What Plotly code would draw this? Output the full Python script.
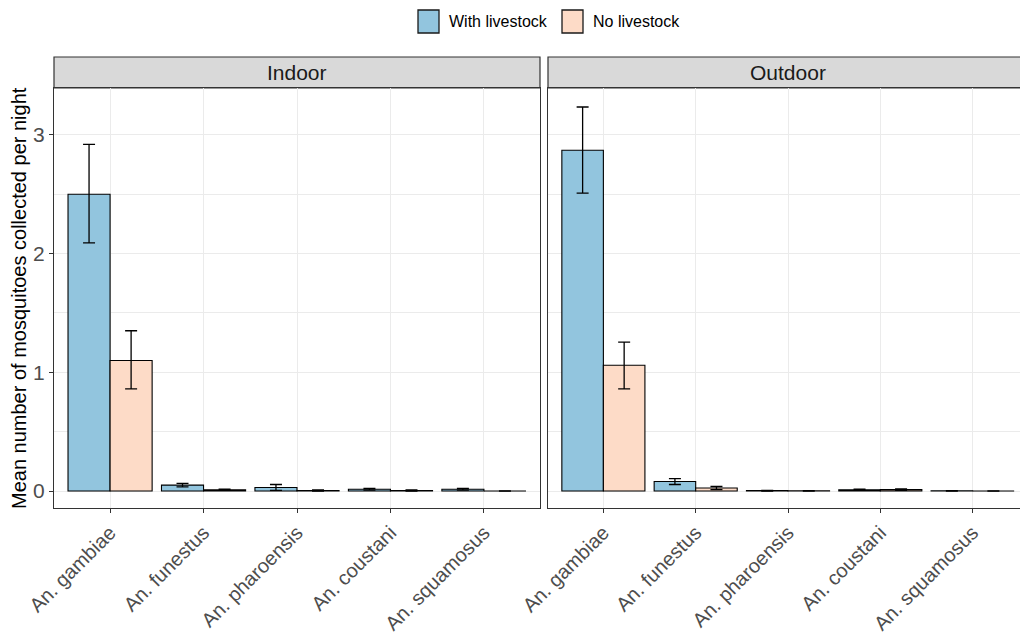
import plotly.graph_objects as go
from plotly.subplots import make_subplots

species = ["An. gambiae", "An. funestus", "An. pharoensis", "An. coustani", "An. squamosus"]
panels = ["Indoor", "Outdoor"]
groups = ["With livestock", "No livestock"]
colors = {"With livestock": "#92C5DE", "No livestock": "#FDDBC7"}

# mean values
indoor_with = [2.50, 0.05, 0.03, 0.015, 0.015]
indoor_without = [1.10, 0.01, 0.005, 0.005, 0.0]
outdoor_with = [2.87, 0.08, 0.003, 0.01, 0.002]
outdoor_without = [1.06, 0.025, 0.002, 0.012, 0.0]

# error bar bounds (lower, upper)
indoor_with_lo = [2.09, 0.035, 0.005, 0.008, 0.008]
indoor_with_hi = [2.92, 0.065, 0.055, 0.022, 0.022]
indoor_without_lo = [0.86, 0.005, 0.0, 0.0, 0.0]
indoor_without_hi = [1.35, 0.015, 0.01, 0.01, 0.0]
outdoor_with_lo = [2.51, 0.055, 0.0, 0.005, 0.0]
outdoor_with_hi = [3.235, 0.105, 0.006, 0.015, 0.004]
outdoor_without_lo = [0.86, 0.012, 0.0, 0.006, 0.0]
outdoor_without_hi = [1.255, 0.038, 0.004, 0.018, 0.0]

data = {
    ("Indoor", "With livestock"): (indoor_with, indoor_with_lo, indoor_with_hi),
    ("Indoor", "No livestock"): (indoor_without, indoor_without_lo, indoor_without_hi),
    ("Outdoor", "With livestock"): (outdoor_with, outdoor_with_lo, outdoor_with_hi),
    ("Outdoor", "No livestock"): (outdoor_without, outdoor_without_lo, outdoor_without_hi),
}

# the page body has an 8px margin; the figure is sized to fill the rest of the window
OFF = 8
W, H = 1028 - OFF, 638 - OFF
FONT = "Liberation Sans, Arial, sans-serif"

fig = make_subplots(rows=1, cols=2, shared_yaxes=True)

for ci, panel in enumerate(panels, start=1):
    for g in groups:
        vals, lo, hi = data[(panel, g)]
        fig.add_trace(go.Bar(
            x=species, y=vals, name=g, legendgroup=g, showlegend=False,
            marker=dict(color=colors[g], line=dict(color="black", width=1.1)),
            error_y=dict(type="data", symmetric=False,
                         array=[h - v for h, v in zip(hi, vals)],
                         arrayminus=[v - l for v, l in zip(vals, lo)],
                         color="black", thickness=1.3, width=6),
        ), row=1, col=ci)


def px_x(p):
    return (p - OFF) / W


def px_y(p):
    return 1 - (p - OFF) / H


x_domains = [(px_x(54), px_x(540)), (px_x(548), px_x(1028))]
y_dom = (px_y(508), px_y(88))

tick_font = dict(family=FONT, size=20, color="#4D4D4D")
for ci in (1, 2):
    fig.update_xaxes(domain=list(x_domains[ci - 1]), range=[-0.6, 4.6],
                     tickangle=-45, tickfont=tick_font,
                     showgrid=True, gridcolor="#EBEBEB", gridwidth=1.2,
                     showline=True, mirror=True, linecolor="#333333", linewidth=1.2,
                     ticks="outside", ticklen=4, tickcolor="#333333",
                     automargin=False, row=1, col=ci)
    fig.update_yaxes(domain=list(y_dom), range=[-0.143, 3.395],
                     tickvals=[0, 1, 2, 3], tickfont=dict(family=FONT, size=21, color="#4D4D4D"),
                     showgrid=True, gridcolor="#EBEBEB", gridwidth=1.2,
                     minor=dict(tickvals=[0.5, 1.5, 2.5], showgrid=True,
                                gridcolor="#EBEBEB", gridwidth=0.7),
                     zeroline=False,
                     showline=True, mirror=True, linecolor="#333333", linewidth=1.2,
                     ticks="outside" if ci == 1 else "", ticklen=4, tickcolor="#333333",
                     showticklabels=(ci == 1),
                     automargin=False, row=1, col=ci)

shapes = []
annotations = []
for ci, panel in enumerate(panels):
    x0, x1 = x_domains[ci]
    shapes.append(dict(type="rect", xref="paper", yref="paper",
                       x0=x0, x1=x1, y0=y_dom[1], y1=px_y(57),
                       fillcolor="#D9D9D9", line=dict(color="#333333", width=1.2),
                       layer="below"))
    annotations.append(dict(text=panel, xref="paper", yref="paper",
                            x=(x0 + x1) / 2, y=(y_dom[1] + px_y(57)) / 2,
                            showarrow=False, xanchor="center", yanchor="middle",
                            font=dict(family=FONT, size=21, color="#1A1A1A")))

annotations.append(dict(text="Mean number of mosquitoes collected per night",
                        xref="paper", yref="paper", x=px_x(19), y=(y_dom[0] + y_dom[1]) / 2,
                        textangle=-90, showarrow=False, xanchor="center", yanchor="middle",
                        font=dict(family=FONT, size=20, color="black")))

# legend keys (drawn as ggplot-style boxes)
legend_keys = [(418, 439, 447), (562, 583, 591)]
for (kx0, kx1, tx), g in zip(legend_keys, groups):
    shapes.append(dict(type="rect", xref="paper", yref="paper",
                       x0=px_x(kx0), x1=px_x(kx1), y0=px_y(33), y1=px_y(10),
                       fillcolor=colors[g], line=dict(color="#1A1A1A", width=1.3)))
    annotations.append(dict(text=g, xref="paper", yref="paper",
                            x=px_x(tx), y=px_y(21.5), xanchor="left", yanchor="middle",
                            showarrow=False,
                            font=dict(family=FONT, size=16, color="black")))

fig.update_layout(
    width=W, height=H,
    margin=dict(l=0, r=0, t=0, b=0),
    paper_bgcolor="white", plot_bgcolor="white",
    barmode="group", bargap=0.1, bargroupgap=0,
    font=dict(family=FONT),
    showlegend=False,
    shapes=shapes, annotations=annotations,
)

fig.write_html("out.html")
